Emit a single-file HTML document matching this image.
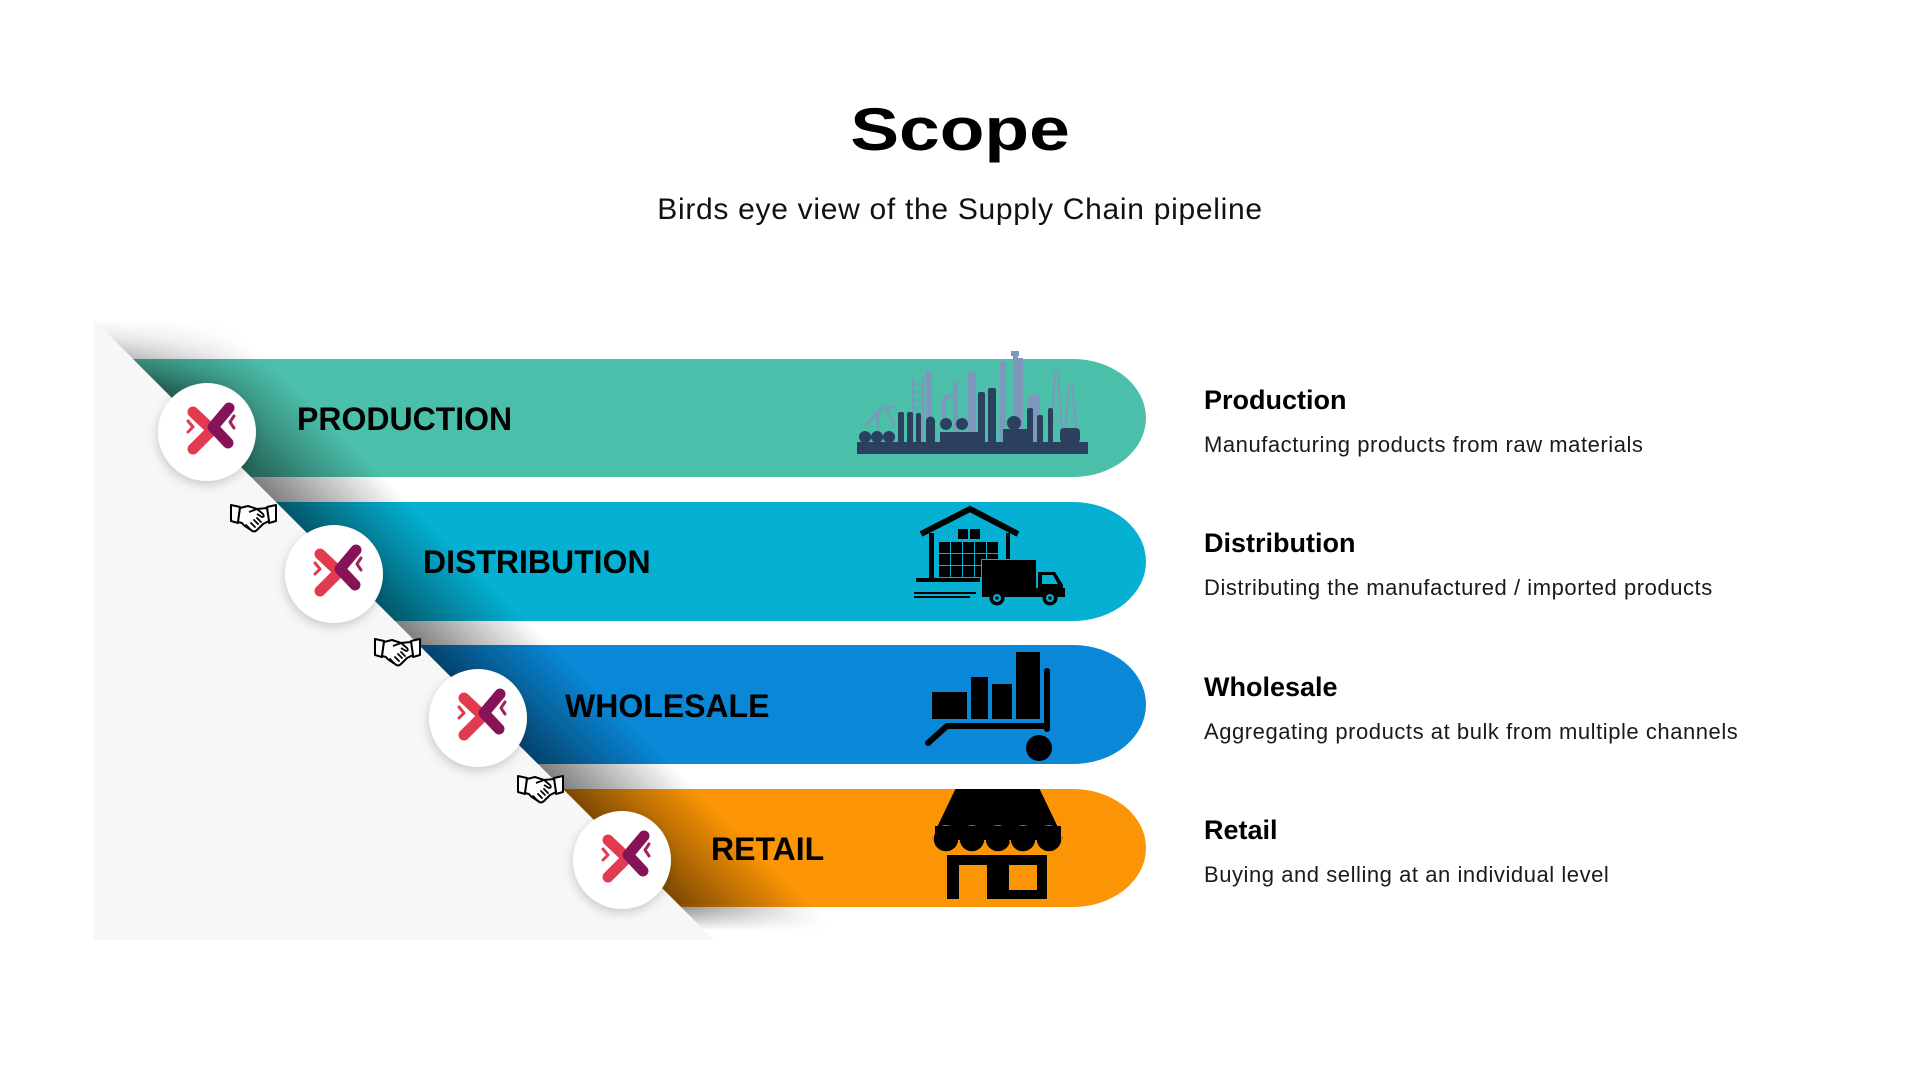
<!DOCTYPE html>
<html>
<head>
<meta charset="utf-8">
<style>
  html,body{margin:0;padding:0;background:#ffffff;}
  body{width:1920px;height:1080px;overflow:hidden;}
  svg{display:block;}
  text{font-family:"Liberation Sans", Arial, sans-serif;}
</style>
</head>
<body>
<svg width="1920" height="1080" viewBox="0 0 1920 1080" xmlns="http://www.w3.org/2000/svg">
  <defs>
    <linearGradient id="sh" gradientUnits="userSpaceOnUse" x1="400" y1="626" x2="466" y2="560">
      <stop offset="0" stop-color="#000" stop-opacity="0.5"/>
      <stop offset="0.45" stop-color="#000" stop-opacity="0.27"/>
      <stop offset="1" stop-color="#000" stop-opacity="0"/>
    </linearGradient>
    <linearGradient id="vg" gradientUnits="userSpaceOnUse" x1="0" y1="320" x2="0" y2="940">
      <stop offset="0" stop-color="#000"/>
      <stop offset="0.03" stop-color="#333"/>
      <stop offset="0.11" stop-color="#fff"/>
      <stop offset="0.94" stop-color="#fff"/>
      <stop offset="0.985" stop-color="#000"/>
    </linearGradient>
    <mask id="vm" maskUnits="userSpaceOnUse" x="0" y="0" width="1920" height="1080">
      <rect x="0" y="0" width="1920" height="1080" fill="url(#vg)"/>
    </mask>
    <filter id="cs" x="-30%" y="-30%" width="160%" height="170%">
      <feDropShadow dx="-1" dy="4" stdDeviation="5" flood-color="#000" flood-opacity="0.18"/>
    </filter>
    <g id="logo">
      <polyline points="-14,-20 5,-2 -14,17" fill="none" stroke="#e23a4f" stroke-width="11" stroke-linecap="round" stroke-linejoin="round"/>
      <polyline points="22,-24 6,-5 21,11" fill="none" stroke="#861257" stroke-width="11" stroke-linecap="round" stroke-linejoin="round"/>
      <polyline points="-19,-11 -14,-5 -19,0" fill="none" stroke="#e23a4f" stroke-width="3" stroke-linecap="round" stroke-linejoin="round"/>
      <polyline points="27,-16 23,-10 27,-4" fill="none" stroke="#a0265a" stroke-width="3" stroke-linecap="round" stroke-linejoin="round"/>
    </g>
    <g id="hand">
      <path d="M1,3 L10,5 L8,21 L1,19 Z" fill="#fff" stroke="#000" stroke-width="2" stroke-linejoin="round"/>
      <path d="M46,3 L37,5 L39,21 L46,19 Z" fill="#fff" stroke="#000" stroke-width="2" stroke-linejoin="round"/>
      <path d="M10,6 L18,4 L27,7 L37,6 L39,19 L33,22 L27,28 Q24,31 21,28 L18,26 Q14,24 12,21 L8,20 Z" fill="#fff" stroke="#000" stroke-width="2" stroke-linejoin="round"/>
      <path d="M19,10 L27,7 L33,12 Q35,15 32,15 L27,12" fill="none" stroke="#000" stroke-width="1.8" stroke-linejoin="round"/>
      <path d="M21,21 L25,25 M24,18 L28,22 M27,16 L31,20 M16,23 L20,27" fill="none" stroke="#000" stroke-width="1.8" stroke-linecap="round"/>
    </g>
  </defs>

  <!-- Title -->
  <text x="0" y="0" transform="translate(960,150) scale(1.22,1)" text-anchor="middle" font-size="60" font-weight="bold" fill="#000">Scope</text>
  <text x="960" y="219" text-anchor="middle" font-size="30" letter-spacing="0.7" fill="#111">Birds eye view of the Supply Chain pipeline</text>

  <!-- gray triangle -->
  <polygon points="94,320 714,940 94,940" fill="#f7f7f7"/>

  <!-- bars -->
  <path d="M133,359 L1073,359 A73,59 0 0 1 1073,477 L251,477 Z" fill="#4bbfaa"/>
  <path d="M276,502 L1073,502 A73,59.5 0 0 1 1073,621 L395,621 Z" fill="#05b0d3"/>
  <path d="M419,645 L1073,645 A73,59.5 0 0 1 1073,764 L538,764 Z" fill="#0a87d7"/>
  <path d="M563,789 L1073,789 A73,59 0 0 1 1073,907 L681,907 Z" fill="#fc9505"/>

  <!-- diagonal shadow -->
  <polygon points="94,320 734,960 960,960 320,320" fill="url(#sh)" mask="url(#vm)"/>

  <!-- bar labels -->
  <text x="297" y="430" font-size="32" font-weight="bold" fill="#000">PRODUCTION</text>
  <text x="423" y="573" font-size="32" font-weight="bold" fill="#000">DISTRIBUTION</text>
  <text x="565" y="717" font-size="32" font-weight="bold" fill="#000">WHOLESALE</text>
  <text x="711" y="860" font-size="32" font-weight="bold" fill="#000">RETAIL</text>

  <!-- Production icon: factory skyline -->
  <g fill="#7d98bb">
    <rect x="912" y="378" width="2" height="66"/>
    <rect x="922" y="378" width="2" height="66"/>
    <path d="M912,384 H924 M912,392 H924 M912,400 H924 M912,408 H924 M912,416 H924" stroke="#7d98bb" stroke-width="1.5"/>
    <rect x="926" y="372" width="6" height="72"/>
    <rect x="953" y="382" width="5" height="62"/>
    <path d="M944,430 L944,402 Q944,396 950,396 L954,396" fill="none" stroke="#7d98bb" stroke-width="4"/>
    <rect x="968" y="372" width="8" height="72"/>
    <rect x="1000" y="362" width="6" height="82"/>
    <rect x="1013" y="354" width="5" height="90"/>
    <rect x="1011" y="351" width="8" height="5"/>
    <rect x="1018" y="358" width="5" height="86"/>
    <rect x="1028" y="400" width="12" height="44"/>
    <circle cx="1034" cy="400" r="6"/>
    <path d="M1050,444 L1055,373 L1058,373 L1063,444 M1064,444 L1069,387 L1072,387 L1078,444" fill="none" stroke="#7d98bb" stroke-width="2"/>
    <path d="M1052,420 H1062 M1053,405 H1060 M1066,420 H1076 M1067,405 H1074" stroke="#7d98bb" stroke-width="1.5"/>
    <path d="M866,425 L880,410 L896,406 M878,412 L878,430 M884,405 L894,425" fill="none" stroke="#7d98bb" stroke-width="2.5"/>
  </g>
  <g fill="#2a405e">
    <rect x="857" y="442" width="231" height="12"/>
    <circle cx="865" cy="437" r="6"/>
    <circle cx="877" cy="437" r="6"/>
    <circle cx="889" cy="437" r="6"/>
    <rect x="898" y="412" width="6" height="31" rx="2"/>
    <rect x="907" y="412" width="6" height="31" rx="2"/>
    <rect x="916" y="413" width="5" height="30" rx="2"/>
    <rect x="926" y="421" width="9" height="22"/>
    <circle cx="930.5" cy="421" r="4.5"/>
    <circle cx="946" cy="424" r="6"/>
    <circle cx="962" cy="424" r="6"/>
    <rect x="940" y="432" width="40" height="11"/>
    <rect x="978" y="392" width="7" height="51" rx="2"/>
    <rect x="988" y="388" width="8" height="55" rx="2"/>
    <circle cx="1014" cy="423" r="7"/>
    <rect x="1003" y="429" width="26" height="14"/>
    <rect x="1027" y="408" width="6" height="35" rx="2"/>
    <rect x="1037" y="415" width="6" height="28" rx="2"/>
    <rect x="1048" y="408" width="5" height="35" rx="2"/>
    <rect x="1060" y="428" width="20" height="15" rx="4"/>
  </g>

  <!-- Distribution icon: warehouse + truck -->
  <g fill="#000">
    <polyline points="921,534 970,509 1018,534" fill="none" stroke="#000" stroke-width="6"/>
    <rect x="929" y="533" width="5" height="46"/>
    <rect x="1006" y="533" width="4" height="28"/>
    <rect x="916" y="578" width="64" height="4"/>
    <rect x="958" y="529" width="10" height="10"/>
    <rect x="970" y="529" width="10" height="10"/>
    <g>
      <rect x="939" y="542" width="11" height="11"/><rect x="951" y="542" width="11" height="11"/><rect x="963" y="542" width="11" height="11"/><rect x="975" y="542" width="11" height="11"/><rect x="987" y="542" width="11" height="11"/>
      <rect x="939" y="554" width="11" height="11"/><rect x="951" y="554" width="11" height="11"/><rect x="963" y="554" width="11" height="11"/><rect x="975" y="554" width="11" height="11"/><rect x="987" y="554" width="11" height="11"/>
      <rect x="939" y="566" width="11" height="11"/><rect x="951" y="566" width="11" height="11"/><rect x="963" y="566" width="11" height="11"/><rect x="975" y="566" width="11" height="11"/>
    </g>
    <rect x="981" y="559" width="56" height="30" fill="#05b0d3"/>
    <rect x="982" y="560" width="54" height="28"/>
    <path d="M1038,572 L1055,572 L1063,585 L1063,597 L1038,597 Z"/>
    <path d="M1042,575 L1053,575 L1058,584 L1042,584 Z" fill="#05b0d3"/>
    <rect x="982" y="588" width="83" height="9"/>
    <circle cx="997" cy="598" r="7.5"/>
    <circle cx="997" cy="598" r="4" fill="#05b0d3"/>
    <circle cx="997" cy="598" r="1.8"/>
    <circle cx="1050" cy="598" r="7.5"/>
    <circle cx="1050" cy="598" r="4" fill="#05b0d3"/>
    <circle cx="1050" cy="598" r="1.8"/>
    <rect x="914" y="592" width="62" height="2"/>
    <rect x="914" y="596" width="56" height="2"/>
  </g>

  <!-- Wholesale icon: cart -->
  <g fill="#000">
    <rect x="932" y="692" width="35" height="27"/>
    <rect x="971" y="677" width="17" height="42"/>
    <rect x="992" y="684" width="20" height="35"/>
    <rect x="1016" y="652" width="24" height="67"/>
    <line x1="1047" y1="671" x2="1047" y2="729" stroke="#000" stroke-width="6" stroke-linecap="round"/>
    <line x1="947" y1="726" x2="1047" y2="726" stroke="#000" stroke-width="6"/>
    <line x1="947" y1="726" x2="928" y2="743" stroke="#000" stroke-width="6" stroke-linecap="round"/>
    <circle cx="1039" cy="748" r="13"/>
  </g>

  <!-- Retail icon: store -->
  <g fill="#000">
    <path d="M956,790 L1039,790 L1062,838 L933,838 Z" stroke="#000" stroke-width="2" stroke-linejoin="round"/>
    <circle cx="946" cy="839" r="13" stroke="#fc9505" stroke-width="1.5"/>
    <circle cx="972" cy="839" r="13" stroke="#fc9505" stroke-width="1.5"/>
    <circle cx="998" cy="839" r="13" stroke="#fc9505" stroke-width="1.5"/>
    <circle cx="1023" cy="839" r="13" stroke="#fc9505" stroke-width="1.5"/>
    <circle cx="1049" cy="839" r="13" stroke="#fc9505" stroke-width="1.5"/>
    <rect x="935" y="826" width="126" height="14"/>
    <path fill-rule="evenodd" d="M947,855 H1047 V899 H987 V865 H959 V899 H947 Z M1009,865 H1037 V890 H1009 Z"/>
  </g>

  <!-- handshakes -->
  <use href="#hand" x="230" y="502"/>
  <use href="#hand" x="374" y="636"/>
  <use href="#hand" x="517" y="773"/>

  <!-- circles with logos -->
  <g filter="url(#cs)">
    <circle cx="207" cy="432" r="49" fill="#fff"/>
    <circle cx="334" cy="574" r="49" fill="#fff"/>
    <circle cx="478" cy="718" r="49" fill="#fff"/>
    <circle cx="622" cy="860" r="49" fill="#fff"/>
  </g>
  <use href="#logo" x="207" y="432"/>
  <use href="#logo" x="334" y="574"/>
  <use href="#logo" x="478" y="718"/>
  <use href="#logo" x="622" y="860"/>

  <!-- right descriptions -->
  <g fill="#000">
    <text x="1204" y="409" font-size="27" font-weight="bold">Production</text>
    <text x="1204" y="452" font-size="22" letter-spacing="0.55" fill="#1a1a1a">Manufacturing products from raw materials</text>
    <text x="1204" y="552" font-size="27" font-weight="bold">Distribution</text>
    <text x="1204" y="595" font-size="22" letter-spacing="0.55" fill="#1a1a1a">Distributing the manufactured / imported products</text>
    <text x="1204" y="696" font-size="27" font-weight="bold">Wholesale</text>
    <text x="1204" y="739" font-size="22" letter-spacing="0.55" fill="#1a1a1a">Aggregating products at bulk from multiple channels</text>
    <text x="1204" y="839" font-size="27" font-weight="bold">Retail</text>
    <text x="1204" y="882" font-size="22" letter-spacing="0.55" fill="#1a1a1a">Buying and selling at an individual level</text>
  </g>
</svg>
</body>
</html>
